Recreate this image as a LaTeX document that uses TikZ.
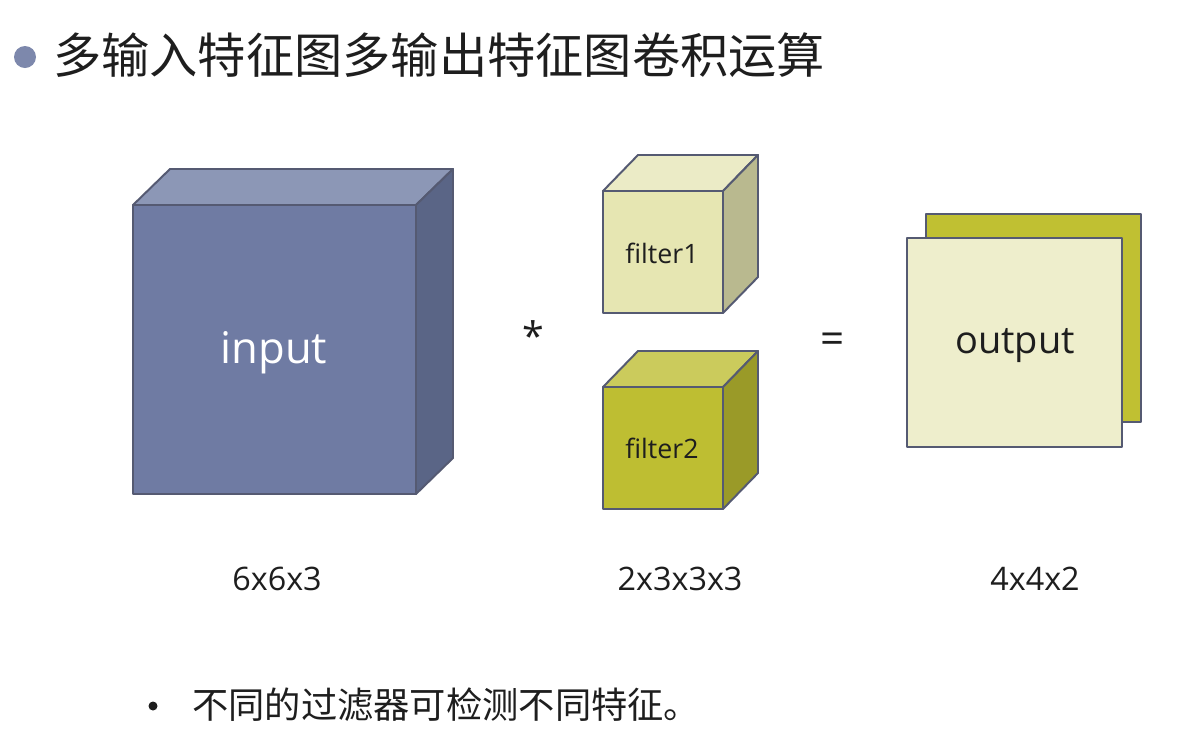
\documentclass[tikz,border=0pt]{standalone}
\usepackage{fontspec}
\setmainfont{Open Sans}
\newfontfamily\cjk{Noto Sans CJK SC}
\usepackage{tikz}
\usetikzlibrary{calc}
\definecolor{inFront}{HTML}{6F7BA3}
\definecolor{inTop}{HTML}{8C97B6}
\definecolor{inSide}{HTML}{5A6586}
\definecolor{fOneFront}{HTML}{E6E6B2}
\definecolor{fOneTop}{HTML}{EBEBC6}
\definecolor{fOneSide}{HTML}{B9B98F}
\definecolor{fTwoFront}{HTML}{BEBE32}
\definecolor{fTwoTop}{HTML}{CBCB5C}
\definecolor{fTwoSide}{HTML}{9A9A28}
\definecolor{outBack}{HTML}{C0C032}
\definecolor{outFront}{HTML}{EEEECC}
\definecolor{edge}{HTML}{555A72}
\definecolor{ink}{HTML}{1E1E1E}
\tikzset{
  face/.style={draw=edge, line width=1.4pt, line join=round},
  label/.style={inner sep=0pt, text=ink},
}
% front face (#1,#2)--(#3,#4), depth (#5,#6), colours front/top/side
\def\cubebox(#1,#2)(#3,#4)(#5,#6)#7#8#9{%
  \draw[face, fill=#8] (#1,#2) -- ($(#1,#2)+(#5,#6)$) -- ($(#3,#2)+(#5,#6)$) -- (#3,#2) -- cycle;
  \draw[face, fill=#9] (#3,#2) -- ($(#3,#2)+(#5,#6)$) -- ($(#3,#4)+(#5,#6)$) -- (#3,#4) -- cycle;
  \draw[face, fill=#7] (#1,#2) rectangle (#3,#4);}

\begin{document}
\begin{tikzpicture}[x=0.025cm, y=-0.025cm]
		%%%%% START %%%%%
		\useasboundingbox[fill=white] (0,0) rectangle (1202,733);
		
		\fill[inFront!90!white] (25, 57) circle (11);
		\node[label, anchor=west, font=\cjk\fontsize{34.3}{40}\selectfont] (title) at (53, 55) {多输入特征图多输出特征图卷积运算};
		
		\cubebox(133,205)(416,494)(37,-36){inFront}{inTop}{inSide}
		\node[label, text=white, font=\fontsize{31}{36}\selectfont] (input) at (274, 353) {input};
		
		\node[label, font=\fontsize{28}{34}\selectfont] (times) at (533, 336) {*};
		
		\cubebox(603,191)(723,313)(35,-36){fOneFront}{fOneTop}{fOneSide}
		\node[label, font=\fontsize{19}{24}\selectfont] (filterA) at (662, 253) {filter1};
		\cubebox(603,387)(723,509)(35,-36){fTwoFront}{fTwoTop}{fTwoSide}
		\node[label, font=\fontsize{19}{24}\selectfont] (filterB) at (662, 448) {filter2};
		
		\node[label, font=\fontsize{30}{36}\selectfont] (equals) at (833, 343) {=};
		
		\draw[face, fill=outBack] (926, 214) rectangle (1141, 422);
		\draw[face, fill=outFront] (907, 238) rectangle (1122, 447);
		\node[label, font=\fontsize{27}{32}\selectfont] (output) at (1015, 346) {output};
		
		\node[label, font=\fontsize{23}{28}\selectfont] (dimIn) at (277, 579) {6x6x3};
		\node[label, font=\fontsize{23}{28}\selectfont] (dimFilter) at (680, 579) {2x3x3x3};
		\node[label, font=\fontsize{23}{28}\selectfont] (dimOut) at (1035, 579) {4x4x2};
		
		\fill[ink] (153, 706) circle (4.5);
		\node[label, anchor=west, font=\cjk\fontsize{25.8}{30}\selectfont] (note) at (192, 705) {不同的过滤器可检测不同特征。};
		%%%%% END %%%%%
\end{tikzpicture}
\end{document}
